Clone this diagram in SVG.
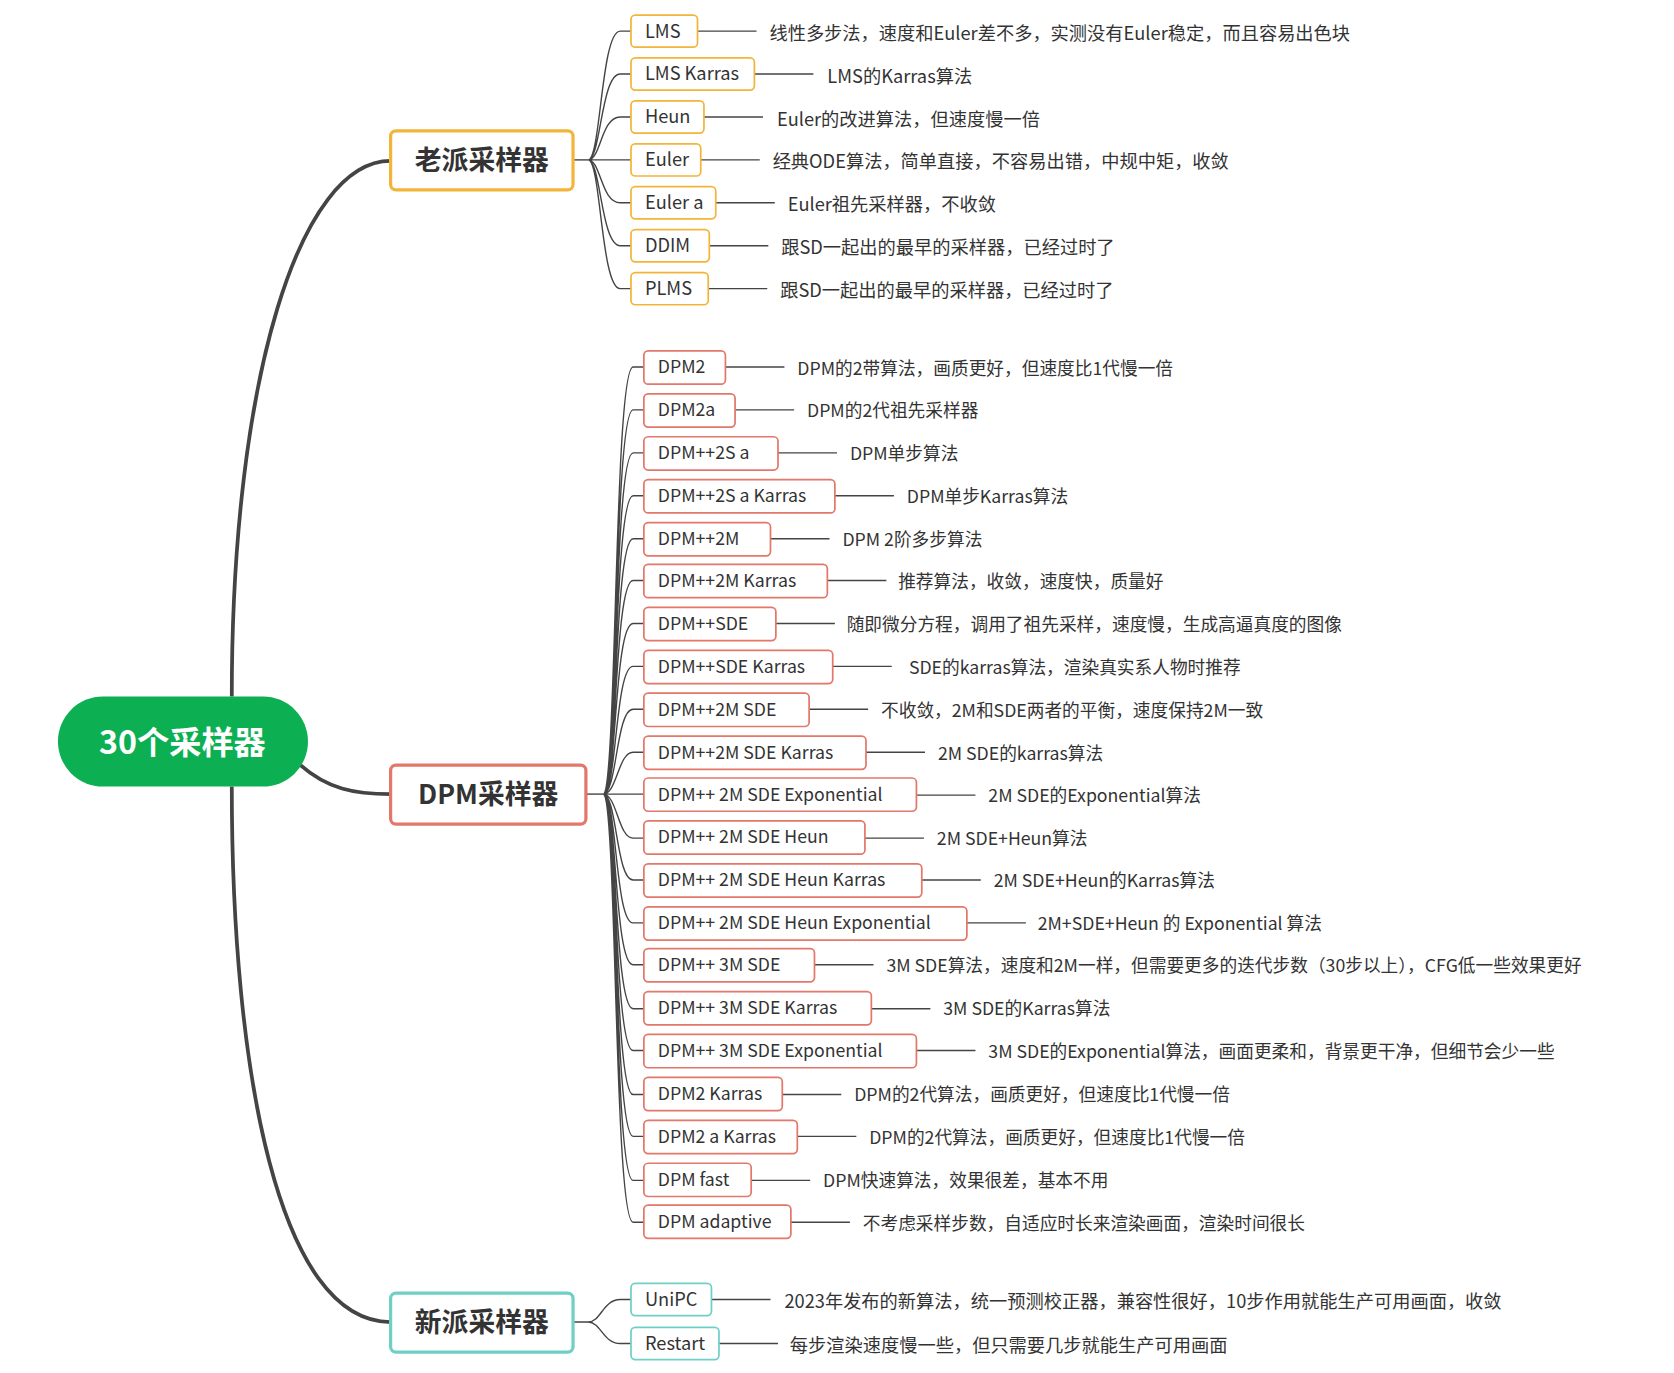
<svg xmlns="http://www.w3.org/2000/svg" width="1674" height="1373" viewBox="0 0 1674 1373">
<style>
text{font-family:"Noto Sans CJK SC","Noto Sans",sans-serif;fill:#333}
.lt{font-size:17px}
.dt{font-size:16.5px}
.o{fill:#fff;stroke:#f2b53a;stroke-width:1.6}
.r{fill:#fff;stroke:#e2776a;stroke-width:1.6}
.t{fill:#fff;stroke:#6fcfc7;stroke-width:1.6}
.c{fill:none;stroke:#444;stroke-width:1.3}
.k{fill:none;stroke:#444;stroke-width:3.5}
.bt{font-size:25px;font-weight:bold}
</style>
<rect width="1674" height="1373" fill="#fff"/>
<g transform="scale(1.0731)">
<g id="connectors">
<path class="k" d="M216,649 C216,350 280,150 364,150"/>
<path class="k" d="M280,713 C305,735 330,740 364,740"/>
<path class="k" d="M216,733 C216,1000 260,1232 364,1232"/>
<path class="c" d="M534,149 H548"/>
<path class="c" d="M548,149 C560,149 560,29 578,29 H588 M548,149 C560,149 560,69 578,69 H588 M548,149 C560,149 560,109 578,109 H588 M548,149 H588 M548,149 C560,149 560,189 578,189 H588 M548,149 C560,149 560,229 578,229 H588 M548,149 C560,149 560,269 578,269 H588"/>
<path class="c" d="M650,29 H705 M703,69 H758 M656,109 H711 M653,149 H708 M667,189 H722 M661,229 H716 M660,269 H715"/>
<path class="c" d="M546,740 H562"/>
<path class="c" d="M562,740 C575,740 572,342 590,342 H600 M562,740 C575,740 572,382 590,382 H600 M562,740 C575,740 572,422 590,422 H600 M562,740 C575,740 572,462 590,462 H600 M562,740 C575,740 572,502 590,502 H600 M562,740 C575,740 572,541 590,541 H600 M562,740 C575,740 572,581 590,581 H600 M562,740 C575,740 573,621 590,621 H600 M562,740 C575,740 574,661 590,661 H600 M562,740 C575,740 576,701 590,701 H600 M562,740 H600 M562,740 C575,740 576,781 590,781 H600 M562,740 C575,740 574,820 590,820 H600 M562,740 C575,740 573,860 590,860 H600 M562,740 C575,740 572,899 590,899 H600 M562,740 C575,740 572,940 590,940 H600 M562,740 C575,740 572,979 590,979 H600 M562,740 C575,740 572,1020 590,1020 H600 M562,740 C575,740 572,1059 590,1059 H600 M562,740 C575,740 572,1100 590,1100 H600 M562,740 C575,740 572,1139 590,1139 H600"/>
<path class="c" d="M676,342 H731 M685,382 H740 M725,422 H780 M778,462 H833 M718,502 H773 M771,541 H826 M723,581 H778 M776,621 H831 M754,661 H809 M807,701 H862 M854,741 H909 M806,781 H861 M859,820 H914 M901,860 H956 M759,899 H814 M812,940 H867 M854,979 H909 M729,1020 H784 M743,1059 H798 M700,1100 H755 M737,1139 H792"/>
<path class="c" d="M534,1232 H548 C560,1232 562,1211 578,1211 H588 M548,1232 C560,1232 562,1252 578,1252 H588"/>
<path class="c" d="M663,1211 H718 M670,1252 H725"/>
</g>
<g id="root"><rect x="54" y="649" width="233" height="84" rx="42" fill="#0daf53"/><text x="170" y="703" text-anchor="middle" font-size="30" font-weight="bold" style="fill:#fff">30个采样器</text></g>
<g id="old"><rect class="o" x="364" y="122" width="170" height="55" rx="5" stroke-width="3" style="stroke-width:3"/><text class="bt" x="449" y="158" text-anchor="middle">老派采样器</text></g>
<g id="dpm"><rect class="r" x="364" y="713" width="182" height="55" rx="5" style="stroke-width:3"/><text class="bt" x="455" y="749" text-anchor="middle">DPM采样器</text></g>
<g id="new"><rect class="t" x="364" y="1205" width="170" height="55" rx="5" style="stroke-width:3"/><text class="bt" x="449" y="1241" text-anchor="middle">新派采样器</text></g>

<g id="n-lms"><rect class="o" x="588" y="14" width="62" height="30" rx="4"/><text class="lt" x="601" y="35">LMS</text><text class="lt" x="717" y="37">线性多步法，速度和Euler差不多，实测没有Euler稳定，而且容易出色块</text></g>
<g id="n-lmsk"><rect class="o" x="588" y="54" width="115" height="30" rx="4"/><text class="lt" x="601" y="75">LMS Karras</text><text class="lt" x="771" y="77">LMS的Karras算法</text></g>
<g id="n-heun"><rect class="o" x="588" y="94" width="68" height="30" rx="4"/><text class="lt" x="601" y="115">Heun</text><text class="lt" x="724" y="117">Euler的改进算法，但速度慢一倍</text></g>
<g id="n-euler"><rect class="o" x="588" y="134" width="65" height="30" rx="4"/><text class="lt" x="601" y="155">Euler</text><text class="lt" x="720" y="157">经典ODE算法，简单直接，不容易出错，中规中矩，收敛</text></g>
<g id="n-eulera"><rect class="o" x="588" y="174" width="79" height="30" rx="4"/><text class="lt" x="601" y="195">Euler a</text><text class="lt" x="734" y="197">Euler祖先采样器，不收敛</text></g>
<g id="n-ddim"><rect class="o" x="588" y="214" width="73" height="30" rx="4"/><text class="lt" x="601" y="235">DDIM</text><text class="lt" x="728" y="237">跟SD一起出的最早的采样器，已经过时了</text></g>
<g id="n-plms"><rect class="o" x="588" y="254" width="72" height="30" rx="4"/><text class="lt" x="601" y="275">PLMS</text><text class="lt" x="727" y="277">跟SD一起出的最早的采样器，已经过时了</text></g>

<g id="d1"><rect class="r" x="600" y="327" width="76" height="31" rx="4"/><text class="dt" x="613" y="348">DPM2</text><text class="dt" x="743" y="349">DPM的2带算法，画质更好，但速度比1代慢一倍</text></g>
<g id="d2"><rect class="r" x="600" y="367" width="85" height="31" rx="4"/><text class="dt" x="613" y="388">DPM2a</text><text class="dt" x="752" y="389">DPM的2代祖先采样器</text></g>
<g id="d3"><rect class="r" x="600" y="407" width="125" height="31" rx="4"/><text class="dt" x="613" y="428">DPM++2S a</text><text class="dt" x="792" y="429">DPM单步算法</text></g>
<g id="d4"><rect class="r" x="600" y="447" width="178" height="31" rx="4"/><text class="dt" x="613" y="468">DPM++2S a Karras</text><text class="dt" x="845" y="469">DPM单步Karras算法</text></g>
<g id="d5"><rect class="r" x="600" y="487" width="118" height="31" rx="4"/><text class="dt" x="613" y="508">DPM++2M</text><text class="dt" x="785" y="509">DPM 2阶多步算法</text></g>
<g id="d6"><rect class="r" x="600" y="526" width="171" height="31" rx="4"/><text class="dt" x="613" y="547">DPM++2M Karras</text><text class="dt" x="837" y="548">推荐算法，收敛，速度快，质量好</text></g>
<g id="d7"><rect class="r" x="600" y="566" width="123" height="31" rx="4"/><text class="dt" x="613" y="587">DPM++SDE</text><text class="dt" x="789" y="588">随即微分方程，调用了祖先采样，速度慢，生成高逼真度的图像</text></g>
<g id="d8"><rect class="r" x="600" y="606" width="176" height="31" rx="4"/><text class="dt" x="613" y="627">DPM++SDE Karras</text><text class="dt" x="847" y="628">SDE的karras算法，渲染真实系人物时推荐</text></g>
<g id="d9"><rect class="r" x="600" y="646" width="154" height="31" rx="4"/><text class="dt" x="613" y="667">DPM++2M SDE</text><text class="dt" x="821" y="668">不收敛，2M和SDE两者的平衡，速度保持2M一致</text></g>
<g id="d10"><rect class="r" x="600" y="686" width="207" height="31" rx="4"/><text class="dt" x="613" y="707">DPM++2M SDE Karras</text><text class="dt" x="874" y="708">2M SDE的karras算法</text></g>
<g id="d11"><rect class="r" x="600" y="725" width="254" height="31" rx="4"/><text class="dt" x="613" y="746">DPM++ 2M SDE Exponential</text><text class="dt" x="921" y="747">2M SDE的Exponential算法</text></g>
<g id="d12"><rect class="r" x="600" y="765" width="206" height="31" rx="4"/><text class="dt" x="613" y="786">DPM++ 2M SDE Heun</text><text class="dt" x="873" y="787">2M SDE+Heun算法</text></g>
<g id="d13"><rect class="r" x="600" y="805" width="259" height="31" rx="4"/><text class="dt" x="613" y="826">DPM++ 2M SDE Heun Karras</text><text class="dt" x="926" y="827">2M SDE+Heun的Karras算法</text></g>
<g id="d14"><rect class="r" x="600" y="845" width="301" height="31" rx="4"/><text class="dt" x="613" y="866">DPM++ 2M SDE Heun Exponential</text><text class="dt" x="967" y="867">2M+SDE+Heun 的 Exponential 算法</text></g>
<g id="d15"><rect class="r" x="600" y="884" width="159" height="31" rx="4"/><text class="dt" x="613" y="905">DPM++ 3M SDE</text><text class="dt" x="826" y="906">3M SDE算法，速度和2M一样，但需要更多的迭代步数（30步以上），CFG低一些效果更好</text></g>
<g id="d16"><rect class="r" x="600" y="924" width="212" height="31" rx="4"/><text class="dt" x="613" y="945">DPM++ 3M SDE Karras</text><text class="dt" x="879" y="946">3M SDE的Karras算法</text></g>
<g id="d17"><rect class="r" x="600" y="964" width="254" height="31" rx="4"/><text class="dt" x="613" y="985">DPM++ 3M SDE Exponential</text><text class="dt" x="921" y="986">3M SDE的Exponential算法，画面更柔和，背景更干净，但细节会少一些</text></g>
<g id="d18"><rect class="r" x="600" y="1004" width="129" height="31" rx="4"/><text class="dt" x="613" y="1025">DPM2 Karras</text><text class="dt" x="796" y="1026">DPM的2代算法，画质更好，但速度比1代慢一倍</text></g>
<g id="d19"><rect class="r" x="600" y="1044" width="143" height="31" rx="4"/><text class="dt" x="613" y="1065">DPM2 a Karras</text><text class="dt" x="810" y="1066">DPM的2代算法，画质更好，但速度比1代慢一倍</text></g>
<g id="d20"><rect class="r" x="600" y="1084" width="100" height="31" rx="4"/><text class="dt" x="613" y="1105">DPM fast</text><text class="dt" x="767" y="1106">DPM快速算法，效果很差，基本不用</text></g>
<g id="d21"><rect class="r" x="600" y="1123" width="137" height="31" rx="4"/><text class="dt" x="613" y="1144">DPM adaptive</text><text class="dt" x="804" y="1146">不考虑采样步数，自适应时长来渲染画面，渲染时间很长</text></g>

<g id="n-unipc"><rect class="t" x="588" y="1196" width="75" height="30" rx="4"/><text class="lt" x="601" y="1217">UniPC</text><text class="lt" x="731" y="1219">2023年发布的新算法，统一预测校正器，兼容性很好，10步作用就能生产可用画面，收敛</text></g>
<g id="n-restart"><rect class="t" x="588" y="1237" width="82" height="30" rx="4"/><text class="lt" x="601" y="1258">Restart</text><text class="lt" x="736" y="1260">每步渲染速度慢一些，但只需要几步就能生产可用画面</text></g>
</g>
</svg>
